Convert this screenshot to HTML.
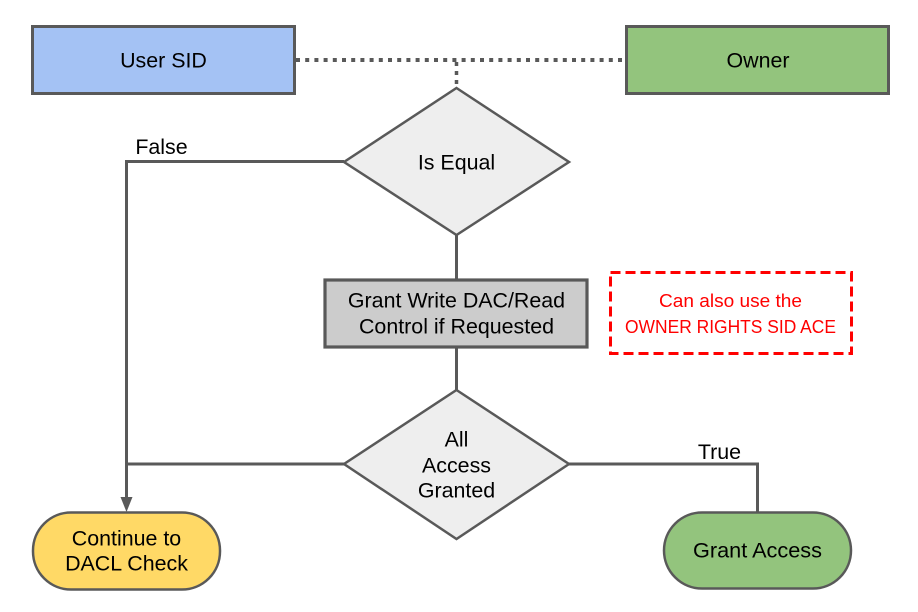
<!DOCTYPE html>
<html><head><meta charset="utf-8"><style>
html,body{margin:0;padding:0;background:#fff;width:918px;height:612px;overflow:hidden}
svg{display:block}
text{font-family:"Liberation Sans",Arial,sans-serif;font-size:21.4px;fill:#000;text-anchor:middle}
</style></head><body>
<svg width="918" height="612" viewBox="0 0 918 612" xmlns="http://www.w3.org/2000/svg">
<rect width="918" height="612" fill="#fff"/>
<g fill="none" stroke="#595959">
<path d="M296 60H625" stroke-width="4" stroke-dasharray="4 5.2"/>
<path d="M456.5 62V88" stroke-width="3.5" stroke-dasharray="4 5"/>
<path d="M344 161.5H126.5V497M344 464H126.5M569 464H757.5V512M456.5 235V279M456.5 348V390" stroke-width="3"/>
</g>
<path d="M120.5 497H132.5L126.5 512Z" fill="#595959"/>
<g stroke="#595959">
<rect x="32.5" y="26.5" width="262" height="67" fill="#a4c2f4" stroke-width="3"/>
<rect x="626.5" y="26.5" width="262" height="67" fill="#93c47d" stroke-width="3"/>
<path d="M456.5 88L569 162L456.5 235L344 162Z" fill="#eeeeee" stroke-width="2.5"/>
<rect x="325" y="280" width="262" height="67" fill="#cccccc" stroke-width="3.2"/>
<path d="M456.5 390L569 464L456.5 539L344 464Z" fill="#eeeeee" stroke-width="2.5"/>
<rect x="33" y="512.5" width="187" height="77" rx="38" fill="#ffd966" stroke-width="2.5"/>
<rect x="664" y="512.5" width="187" height="76" rx="38" fill="#93c47d" stroke-width="2.5"/>
</g>
<rect x="610.5" y="272.5" width="241" height="81" fill="none" stroke="#ff0000" stroke-width="3" stroke-dasharray="10 5"/>
<text x="163.5" y="67.5">User SID</text>
<text x="758" y="67.5">Owner</text>
<text x="161.5" y="154">False</text>
<text x="456.5" y="169.5">Is Equal</text>
<text x="456.5" y="307.5">Grant Write DAC/Read</text>
<text x="456.5" y="333.5">Control if Requested</text>
<text x="456.5" y="446.5">All</text>
<text x="456.5" y="472.5">Access</text>
<text x="456.5" y="497.5">Granted</text>
<text x="719.5" y="459">True</text>
<text x="126.5" y="545.5">Continue to</text>
<text x="126.5" y="570.5">DACL Check</text>
<text x="757.5" y="557.5" textLength="129" lengthAdjust="spacingAndGlyphs">Grant Access</text>
<text x="730.5" y="307" style="fill:#ff0000;font-size:18px" textLength="143" lengthAdjust="spacingAndGlyphs">Can also use the</text>
<text x="730.5" y="333" style="fill:#ff0000;font-size:18px" textLength="211" lengthAdjust="spacingAndGlyphs">OWNER RIGHTS SID ACE</text>
</svg>
</body></html>
